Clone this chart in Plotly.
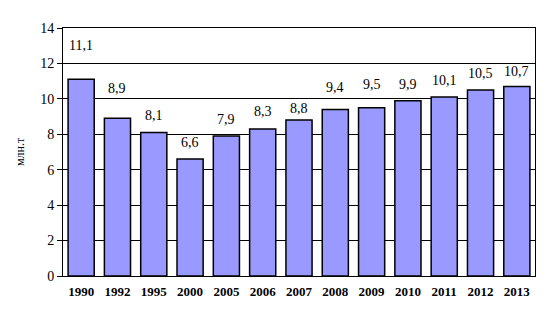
import plotly.graph_objects as go

years = ["1990", "1992", "1995", "2000", "2005", "2006", "2007", "2008", "2009", "2010", "2011", "2012", "2013"]
values = [11.1, 8.9, 8.1, 6.6, 7.9, 8.3, 8.8, 9.4, 9.5, 9.9, 10.1, 10.5, 10.7]
value_labels = ["11,1", "8,9", "8,1", "6,6", "7,9", "8,3", "8,8", "9,4", "9,5", "9,9", "10,1", "10,5", "10,7"]
label_offsets = [34, 30, 17, 17, 17, 17, 12, 22, 23, 16, 17, 17, 15]

serif = "Liberation Serif"

fig = go.Figure()
fig.add_trace(go.Bar(
    x=years, y=values,
    marker=dict(color="#9999FF", line=dict(color="black", width=1.5)),
    hoverinfo="skip",
))

for i, (v, lab, off) in enumerate(zip(values, value_labels, label_offsets)):
    fig.add_annotation(x=i, y=v, text=lab, showarrow=False, yanchor="middle",
                       yshift=off, font=dict(family=serif, size=14, color="black"))

fig.add_annotation(xref="paper", yref="paper", x=-0.091, y=0.5, text="млн.т",
                   textangle=-90, showarrow=False, xanchor="center", yanchor="middle",
                   font=dict(family=serif, size=12, color="black"))

fig.update_layout(
    width=559, height=315,
    margin=dict(l=55, r=32, t=20, b=47),
    paper_bgcolor="white", plot_bgcolor="white",
    font=dict(family=serif),
    bargap=0.28,
    showlegend=False,
    xaxis=dict(type="category", range=[-0.5, len(years) - 0.5],
               showline=True, linecolor="black", linewidth=1,
               mirror=True, ticks="", showgrid=False, ticklabelstandoff=3,
               tickfont=dict(family=serif, size=13, color="black", weight="bold")),
    yaxis=dict(range=[0, 14], dtick=2, showline=True, linecolor="black", linewidth=1,
               mirror=True, ticks="outside", ticklen=5, tickcolor="black",
               showgrid=True, gridcolor="black", gridwidth=1, zeroline=False,
               tickfont=dict(family=serif, size=14, color="black")),
)

fig.write_html("out.html")
